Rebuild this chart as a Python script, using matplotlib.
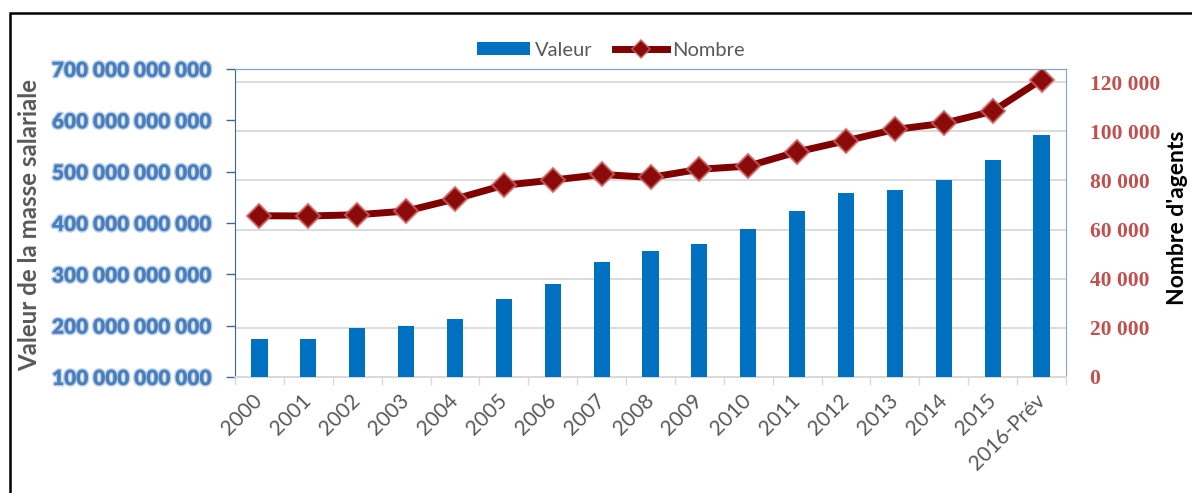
import matplotlib
matplotlib.use("Agg")
import matplotlib.pyplot as plt
import matplotlib.patheffects as pe
from matplotlib.patches import Rectangle, Patch
from matplotlib.lines import Line2D
from matplotlib.ticker import FuncFormatter, FixedLocator
import numpy as np

categories = ["2000", "2001", "2002", "2003", "2004", "2005", "2006", "2007", "2008",
              "2009", "2010", "2011", "2012", "2013", "2014", "2015", "2016-Prév"]
valeur = [174e9, 174e9, 195e9, 200e9, 213e9, 251e9, 281e9, 325e9, 345e9,
          360e9, 388e9, 423e9, 458e9, 464e9, 483e9, 523e9, 571e9]
nombre = [65600, 65500, 66000, 67500, 72400, 78000, 80100, 82400, 81200,
          84500, 85800, 91600, 96100, 100700, 103200, 108100, 121000]
left_ticks = [100e9, 200e9, 300e9, 400e9, 500e9, 600e9, 700e9]
right_ticks = [0, 20000, 40000, 60000, 80000, 100000, 120000]

W, H = 1192, 493
fig = plt.figure(figsize=(W / 100, H / 100), dpi=100)
fig.patch.set_facecolor("white")

ax1 = fig.add_axes([235 / W, 1 - 377 / H, (1066 - 235) / W, (377 - 69) / H])
ax2 = ax1.twinx()
# bars axis on top of gridline axis
ax1.set_zorder(ax2.get_zorder() + 1)
ax1.patch.set_visible(False)
ax2.patch.set_facecolor("white")

x = np.arange(len(categories))
ax1.bar(x, valeur, width=0.33, color="#0070C0", zorder=3)
ax1.set_xlim(-0.5, len(categories) - 0.5)
ax1.set_ylim(100e9, 700e9)

ax2.plot(x, nombre, color="#800000", lw=5, marker="D", ms=12.5,
         mfc="#8B0A0A", mec=(0.80, 0.40, 0.40, 0.75), mew=1.6, zorder=4,
         solid_capstyle="round")
ax2.set_ylim(0, 125300)
ax2.yaxis.set_major_locator(FixedLocator(right_ticks))
ax2.grid(axis="y", color="#D9D9D9", lw=1.3)
ax2.set_axisbelow(True)

# left axis
ax1.yaxis.set_major_locator(FixedLocator(left_ticks))
ax1.yaxis.set_major_formatter(FuncFormatter(lambda v, p: f"{int(round(v)):,}".replace(",", " ")))
ax1.tick_params(axis="y", direction="out", length=6.5, width=1, color="#41678F", pad=11)
for t in ax1.get_yticklabels():
    t.set_fontfamily("Lato")
    t.set_fontweight("heavy")
    t.set_fontsize(15)
    t.set_color("#4A7EBB")
    t.set_path_effects([pe.withStroke(linewidth=2.2, foreground=(0.62, 0.74, 0.88, 0.7))])

# right axis
ax2.yaxis.set_major_formatter(FuncFormatter(lambda v, p: f"{int(round(v)):,}".replace(",", " ")))
ax2.tick_params(axis="y", length=0, pad=17)
for t in ax2.get_yticklabels():
    t.set_fontfamily("Liberation Serif")
    t.set_fontweight("bold")
    t.set_fontsize(15.5)
    t.set_color("#C0504D")

# x axis
ax1.set_xticks(x)
ax1.set_xticklabels(categories)
ax1.set_xticks(np.arange(-0.5, len(categories), 1.0), minor=True)
ax1.tick_params(axis="x", which="major", length=0, pad=15)
ax1.tick_params(axis="x", which="minor", length=6, width=1, color="#D9D9D9")
for t in ax1.get_xticklabels():
    t.set_rotation(45)
    t.set_rotation_mode("anchor")
    t.set_ha("right")
    t.set_va("center")
    t.set_fontfamily("Lato")
    t.set_fontsize(15)
    t.set_color("#595959")

# spines
for ax in (ax1, ax2):
    ax.spines["bottom"].set_color("#D9D9D9")
    ax.spines["bottom"].set_linewidth(1.3)
    ax.spines["top"].set_color("#7EA6D6")
    ax.spines["right"].set_color("#7EA6D6")
    ax.spines["left"].set_color("#41678F")
ax2.spines["left"].set_visible(False)
ax1.spines["right"].set_visible(False)

# axis titles
fig.text(30 / W, 1 - 225 / H, "Valeur de la masse salariale", rotation=90,
         ha="center", va="center", fontfamily="Lato", fontweight="bold",
         fontsize=17.3, color="#595959")
fig.text(1178 / W, 1 - 218 / H, "Nombre d'agents", rotation=90,
         ha="center", va="center", fontfamily="Lato", fontweight="bold",
         fontsize=16.5, color="black")

# legend
handles = [Patch(facecolor="#0070C0", edgecolor="none"),
           Line2D([0], [0], color="#800000", lw=5, marker="D", ms=9,
                  mfc="#8B0A0A", mec=(0.80, 0.40, 0.40, 0.75), mew=1.2)]
leg = fig.legend(handles, ["Valeur", "Nombre"], loc="center",
                 bbox_to_anchor=(611 / W, 1 - 50 / H), ncol=2, frameon=False,
                 prop={"family": "Lato", "size": 14.5}, handlelength=2.6,
                 handleheight=0.6, columnspacing=1.1, handletextpad=0.25)
for t in leg.get_texts():
    t.set_color("#595959")

# outer frame
fig.patches.append(Rectangle((10 / W, -0.1), 1.2, 1.1 - 13 / H, transform=fig.transFigure,
                             fill=False, edgecolor="black", lw=1.8))

fig.savefig("out.png", dpi=100)
